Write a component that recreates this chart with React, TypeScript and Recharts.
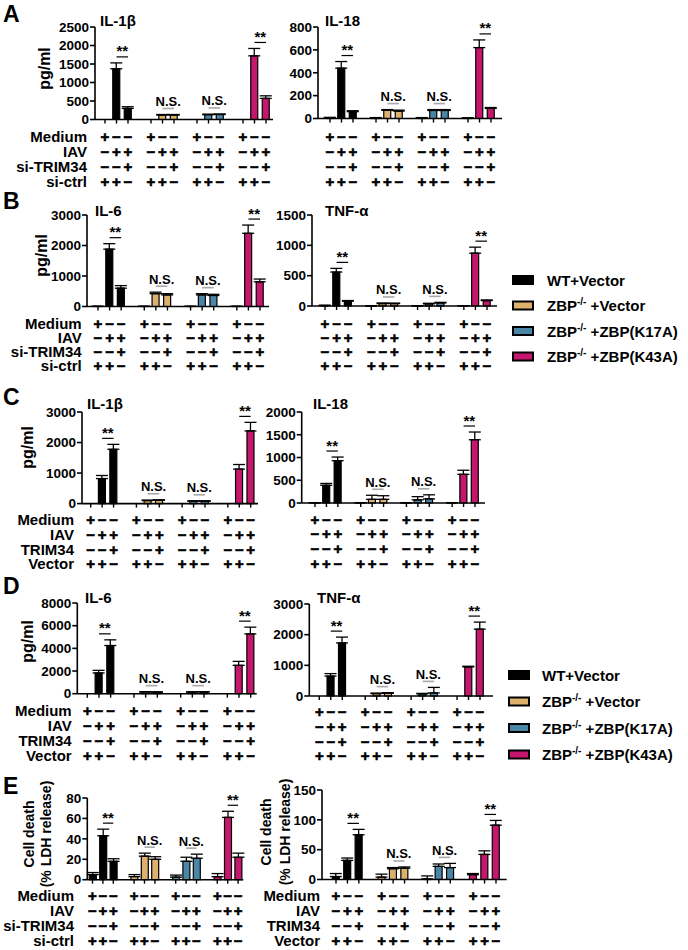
import React from 'react';
import { BarChart, Bar, XAxis, YAxis, ErrorBar, Cell, ReferenceLine } from 'recharts';

// ---------- data ----------
const GROUPS = ['WT+Vector', 'ZBP-/- +Vector', 'ZBP-/- +ZBP(K17A)', 'ZBP-/- +ZBP(K43A)'];
const GROUP_COLORS = ['#000000', '#DDB06C', '#4A87A7', '#C5176D'];

const ROW_LABELS_SI = ['Medium', 'IAV', 'si-TRIM34', 'si-ctrl'];
const ROW_LABELS_OE = ['Medium', 'IAV', 'TRIM34', 'Vector'];
const MEDIUM_SIGNS = ['+', '−', '−'];
const IAV_SIGNS = ['−', '+', '+'];
const TRIM34_SIGNS = ['−', '−', '+'];
const CTRL_SIGNS = ['+', '+', '−'];
const ROW_SIGNS = [MEDIUM_SIGNS, IAV_SIGNS, TRIM34_SIGNS, CTRL_SIGNS];
const SIG_LABELS = ['**', 'N.S.', 'N.S.', '**'];

const A_IL1B = [0, 1370, 300, 0, 120, 120, 0, 130, 135, 0, 1720, 570];
const A_IL1B_ERR = [0, 160, 45, 0, 15, 15, 0, 15, 15, 0, 200, 70];
const A_IL1B_TICKS = [0, 500, 1000, 1500, 2000, 2500];

const A_IL18 = [5, 440, 60, 3, 72, 65, 5, 70, 70, 3, 620, 88];
const A_IL18_ERR = [5, 58, 8, 5, 6, 8, 3, 8, 8, 3, 67, 8];
const A_IL18_TICKS = [0, 200, 400, 600, 800];

const B_IL6 = [5, 1880, 600, 5, 420, 380, 5, 380, 360, 5, 2400, 810];
const B_IL6_ERR = [3, 180, 85, 3, 50, 40, 3, 40, 40, 3, 270, 90];
const B_IL6_TICKS = [0, 1000, 2000, 3000];

const B_TNF = [8, 560, 80, 3, 40, 40, 3, 35, 50, 3, 870, 90];
const B_TNF_ERR = [5, 60, 10, 3, 10, 8, 3, 10, 10, 3, 100, 10];
const B_TNF_TICKS = [0, 500, 1000, 1500];

const C_IL1B = [0, 820, 1780, 0, 100, 110, 0, 80, 80, 0, 1130, 2380];
const C_IL1B_ERR = [0, 100, 160, 0, 15, 15, 0, 10, 10, 0, 150, 280];
const C_IL1B_TICKS = [0, 1000, 2000, 3000];

const C_IL18 = [5, 390, 930, 5, 80, 80, 5, 70, 90, 5, 630, 1390];
const C_IL18_ERR = [3, 40, 80, 3, 90, 80, 3, 70, 90, 3, 90, 170];
const C_IL18_TICKS = [0, 500, 1000, 1500, 2000];

const D_IL6 = [0, 1830, 4250, 0, 150, 130, 0, 140, 150, 0, 2500, 5270];
const D_IL6_ERR = [0, 230, 500, 0, 30, 30, 0, 30, 30, 0, 350, 600];
const D_IL6_TICKS = [0, 2000, 4000, 6000, 8000];

const D_TNF = [0, 650, 1730, 0, 80, 90, 0, 70, 100, 0, 950, 2180];
const D_TNF_ERR = [0, 80, 190, 0, 15, 20, 0, 15, 180, 0, 20, 230];
const D_TNF_TICKS = [0, 1000, 2000, 3000];

const E_LDH_SI = [5, 43, 18, 3, 23, 20, 2.5, 18, 21, 3, 61, 22];
const E_LDH_SI_ERR = [2, 6.5, 2.5, 2, 3, 2.5, 2, 4, 4, 3, 6, 4];
const E_LDH_SI_TICKS = [0, 20, 40, 60, 80];

const E_LDH_OE = [5, 32, 75, 4, 18, 19, 1, 22, 20, 8, 42, 91];
const E_LDH_OE_ERR = [5, 4, 9, 5, 2, 2, 5, 4, 7, 2, 6, 8];
const E_LDH_OE_TICKS = [0, 50, 100, 150];

// ---------- helpers ----------
const FONT = '"Liberation Sans", Arial, Helvetica, sans-serif';

function buildRows(values: number[], errs: number[]) {
  const out: any[] = [];
  for (let g = 0; g < 4; g++) {
    if (g > 0) out.push({ k: 's' + g, spacer: true, v: null });
    for (let b = 0; b < 3; b++) {
      const i = g * 3 + b;
      out.push({
        k: `g${g}b${b}`,
        g,
        b,
        spacer: false,
        v: values[i],
        e: errs[i] > 0 ? [0, errs[i]] : undefined,
      });
    }
  }
  return out;
}

type PanelProps = {
  values: number[];
  errs: number[];
  ticks: number[];
  axisX: number;
  plotTop: number;
  plotBottom: number;
  axisEnd: number;
  firstBar: number;
  lastBar: number;
  left: number;
  rowLabels?: string[];
  labelRight?: number;
  rowStart: number;
  rowGap: number;
};

function Panel(p: PanelProps) {
  const yMax = p.ticks[p.ticks.length - 1];
  const plotH = p.plotBottom - p.plotTop;
  const slot = (p.lastBar - p.firstBar) / 14;
  const padL = Math.max(0, p.firstBar - slot / 2 - p.axisX);
  const padR = Math.max(0, p.axisEnd - (p.lastBar + slot / 2));
  const mt = 12;
  const mr = 6;
  const xH = 74;
  const width = p.axisEnd - p.left + mr;
  const height = mt + plotH + xH;
  const top = p.plotTop - mt;
  const rows = buildRows(p.values, p.errs);
  const perPx = yMax / plotH;
  const bw = Math.round(slot * 0.62);

  const renderTick = (tp: any) => {
    const { x, y, payload } = tp;
    const item = rows.find((r) => r.k === payload.value);
    if (!item || item.spacer) return <g />;
    return (
      <g>
        <line x1={x} y1={y} x2={x} y2={y + 4} stroke="#000" strokeWidth={1.4} />
        {ROW_SIGNS.map((signs, r) => (
          <text
            key={r}
            x={x}
            y={y + p.rowStart + r * p.rowGap}
            textAnchor="middle"
            fontSize={15}
            fontWeight="bold"
            fill="#000"
            stroke="#000"
            strokeWidth={0.6}
          >
            {signs[item.b]}
          </text>
        ))}
        {p.rowLabels && item.g === 0 && item.b === 0
          ? p.rowLabels.map((lab, r) => (
              <text
                key={'l' + r}
                x={(p.labelRight as number) - p.left}
                y={y + p.rowStart + r * p.rowGap}
                textAnchor="end"
                fontSize={15}
                fontWeight="bold"
                fill="#000"
              >
                {lab}
              </text>
            ))
          : null}
      </g>
    );
  };

  const annotations = [0, 1, 2, 3].map((g) => {
    const i2 = g * 3 + 1;
    const i3 = g * 3 + 2;
    const topVal = Math.max(p.values[i2] + p.errs[i2], p.values[i3] + p.errs[i3]);
    const yv = topVal + 6 * perPx;
    const isNS = SIG_LABELS[g] === 'N.S.';
    return (
      <ReferenceLine
        key={'ann' + g}
        segment={[
          { x: `g${g}b1`, y: yv },
          { x: `g${g}b2`, y: yv },
        ]}
        ifOverflow="visible"
        stroke={isNS ? '#a8a8a8' : '#000'}
        strokeWidth={isNS ? 1.6 : 1.2}
        label={{
          value: SIG_LABELS[g],
          position: 'top',
          offset: isNS ? 2.5 : 0.5,
          fill: '#000',
          fontSize: isNS ? 13 : 15,
          fontWeight: 'bold',
        }}
      />
    );
  });

  return (
    <div style={{ position: 'absolute', left: p.left, top }}>
      <BarChart
        width={width}
        height={height}
        data={rows}
        margin={{ top: mt, right: mr, bottom: 0, left: 0 }}
        barCategoryGap={0}
      >
        <XAxis
          dataKey="k"
          type="category"
          interval={0}
          padding={{ left: padL, right: padR }}
          height={xH}
          tickSize={0}
          tickMargin={0}
          tickLine={false}
          axisLine={{ stroke: '#000', strokeWidth: 1.6 }}
          tick={renderTick}
        />
        <YAxis
          type="number"
          domain={[0, yMax]}
          ticks={p.ticks}
          interval={0}
          width={p.axisX - p.left}
          tickSize={5}
          tickMargin={1}
          axisLine={{ stroke: '#000', strokeWidth: 1.6 }}
          tickLine={{ stroke: '#000', strokeWidth: 1.6 }}
          tick={{ fill: '#000', fontSize: 13.5, fontWeight: 'bold' }}
        />
        <Bar dataKey="v" barSize={bw} isAnimationActive={false} stroke="#000" strokeWidth={1.2}>
          {rows.map((r) => (
            <Cell key={r.k} fill={r.spacer ? 'none' : GROUP_COLORS[r.g]} />
          ))}
          <ErrorBar dataKey="e" width={6} stroke="#000" strokeWidth={1.3} direction="y" />
        </Bar>
        {annotations}
      </BarChart>
    </div>
  );
}

function LegendBlock({ boxX, textX, y0, gap }: { boxX: number; textX: number; y0: number; gap: number }) {
  return (
    <g>
      {GROUPS.map((name, i) => {
        const cy = y0 + i * gap;
        const parts = name.split('-/-');
        return (
          <g key={i}>
            <rect x={boxX + 1} y={cy - 4} width={20} height={8} fill={GROUP_COLORS[i]} stroke="#000" strokeWidth={2} />
            <text x={textX} y={cy + 5.5} fontSize={15} fontWeight="bold" fill="#000">
              {parts.length > 1 ? (
                <>
                  <tspan>{parts[0]}</tspan>
                  <tspan fontSize={10} dy={-6}>
                    -/-
                  </tspan>
                  <tspan dy={6}>{parts[1]}</tspan>
                </>
              ) : (
                name
              )}
            </text>
          </g>
        );
      })}
    </g>
  );
}

function Overlay() {
  const letter = (t: string, y: number) => (
    <text x={3} y={y} fontSize={23} fontWeight="bold" fill="#000">
      {t}
    </text>
  );
  const title = (t: string, x: number, y: number) => (
    <text x={x} y={y} fontSize={15} fontWeight="bold" fill="#000">
      {t}
    </text>
  );
  const vlabel = (t: string, x: number, y: number, fs: number) => (
    <text x={x} y={y} fontSize={fs} fontWeight="bold" fill="#000" textAnchor="middle" transform={`rotate(-90 ${x} ${y})`}>
      {t}
    </text>
  );
  return (
    <svg width={688} height={950} style={{ position: 'absolute', left: 0, top: 0, pointerEvents: 'none' }}>
      {letter('A', 22)}
      {letter('B', 209)}
      {letter('C', 405)}
      {letter('D', 594)}
      {letter('E', 794)}
      {title('IL-1β', 100, 26)}
      {title('IL-18', 325, 26)}
      {title('IL-6', 95, 216)}
      {title('TNF-α', 325, 216)}
      {title('IL-1β', 87, 409)}
      {title('IL-18', 313, 409)}
      {title('IL-6', 85, 603)}
      {title('TNF-α', 317, 603)}
      {vlabel('pg/ml', 50, 68.5, 16)}
      {vlabel('pg/ml', 46.7, 255.5, 16)}
      {vlabel('pg/ml', 33.4, 447.5, 16)}
      {vlabel('pg/ml', 33.4, 641.5, 16)}
      {vlabel('Cell death', 33.5, 834, 14)}
      {vlabel('(% LDH release)', 51, 834, 14)}
      {vlabel('Cell death', 271, 832, 14)}
      {vlabel('(% LDH release)', 290, 832, 14)}
      <LegendBlock boxX={512} textX={547} y0={280} gap={25.5} />
      <LegendBlock boxX={508} textX={542} y0={675} gap={26.5} />
    </svg>
  );
}

export default function App() {
  return (
    <div
      style={{
        position: 'absolute',
        left: 0,
        top: 0,
        width: 688,
        height: 950,
        overflow: 'hidden',
        background: '#fff',
        fontFamily: FONT,
      }}
    >
      <Panel values={A_IL1B} errs={A_IL1B_ERR} ticks={A_IL1B_TICKS} axisX={95} plotTop={27} plotBottom={119.5} axisEnd={273} firstBar={105} lastBar={266} left={0} rowLabels={ROW_LABELS_SI} labelRight={87} rowStart={22} rowGap={15.2} />
      <Panel values={A_IL18} errs={A_IL18_ERR} ticks={A_IL18_TICKS} axisX={318} plotTop={27} plotBottom={118.5} axisEnd={502} firstBar={330} lastBar={491} left={250} rowStart={23} rowGap={15.2} />
      <Panel values={B_IL6} errs={B_IL6_ERR} ticks={B_IL6_TICKS} axisX={87} plotTop={215} plotBottom={306.5} axisEnd={269} firstBar={98} lastBar={260} left={0} rowLabels={ROW_LABELS_SI} labelRight={81.7} rowStart={22} rowGap={14.3} />
      <Panel values={B_TNF} errs={B_TNF_ERR} ticks={B_TNF_TICKS} axisX={312} plotTop={215} plotBottom={306} axisEnd={497} firstBar={325} lastBar={487} left={250} rowStart={22.5} rowGap={14.3} />
      <Panel values={C_IL1B} errs={C_IL1B_ERR} ticks={C_IL1B_TICKS} axisX={82} plotTop={411.7} plotBottom={503.3} axisEnd={258} firstBar={90.7} lastBar={250.7} left={0} rowLabels={ROW_LABELS_OE} labelRight={74} rowStart={21.7} rowGap={14.7} />
      <Panel values={C_IL18} errs={C_IL18_ERR} ticks={C_IL18_TICKS} axisX={301.7} plotTop={412.3} plotBottom={503.3} axisEnd={485} firstBar={315} lastBar={475} left={250} rowStart={21.7} rowGap={14.7} />
      <Panel values={D_IL6} errs={D_IL6_ERR} ticks={D_IL6_TICKS} axisX={77.3} plotTop={603.3} plotBottom={694} axisEnd={256.7} firstBar={87.3} lastBar={250.7} left={0} rowLabels={ROW_LABELS_OE} labelRight={71.7} rowStart={22.5} rowGap={14.8} />
      <Panel values={D_TNF} errs={D_TNF_ERR} ticks={D_TNF_TICKS} axisX={309.3} plotTop={604} plotBottom={696} axisEnd={493} firstBar={319.3} lastBar={480} left={250} rowStart={21} rowGap={14.8} />
      <Panel values={E_LDH_SI} errs={E_LDH_SI_ERR} ticks={E_LDH_SI_TICKS} axisX={87.3} plotTop={798.3} plotBottom={880} axisEnd={243.3} firstBar={90.7} lastBar={238.3} left={0} rowLabels={ROW_LABELS_SI} labelRight={74} rowStart={21.7} rowGap={15} />
      <Panel values={E_LDH_OE} errs={E_LDH_OE_ERR} ticks={E_LDH_OE_TICKS} axisX={322} plotTop={790} plotBottom={879.5} axisEnd={506.7} firstBar={336} lastBar={496} left={250} rowLabels={ROW_LABELS_OE} labelRight={320} rowStart={22} rowGap={15} />
      <Overlay />
    </div>
  );
}
